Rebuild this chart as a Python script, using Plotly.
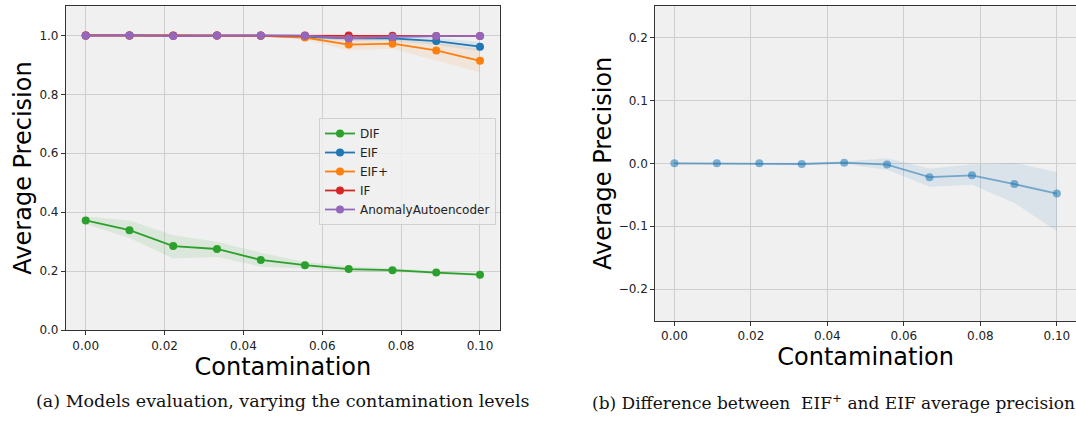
import plotly.graph_objects as go

# ---------------- data ----------------
contamination = [0.0, 0.0111, 0.0222, 0.0333, 0.0444, 0.0556, 0.0667, 0.0778, 0.0889, 0.1]

dif = [0.372, 0.339, 0.285, 0.275, 0.238, 0.220, 0.207, 0.203, 0.195, 0.188]
dif_hi = [0.385, 0.372, 0.322, 0.300, 0.262, 0.232, 0.216, 0.210, 0.201, 0.193]
dif_lo = [0.360, 0.312, 0.243, 0.248, 0.215, 0.209, 0.198, 0.197, 0.189, 0.183]

eif = [1.0, 1.0, 0.999, 1.0, 0.999, 0.995, 0.990, 0.990, 0.981, 0.962]
eif_hi = [1.0, 1.0, 1.0, 1.0, 1.0, 1.0, 0.997, 0.997, 0.992, 0.978]
eif_lo = [0.999, 0.999, 0.998, 0.999, 0.998, 0.990, 0.982, 0.982, 0.968, 0.946]

eifp = [1.0, 1.0, 0.999, 1.0, 0.999, 0.993, 0.969, 0.972, 0.949, 0.914]
eifp_hi = [1.0, 1.0, 1.0, 1.0, 1.0, 1.0, 0.985, 0.990, 0.975, 0.952]
eifp_lo = [0.999, 0.999, 0.998, 0.999, 0.998, 0.985, 0.950, 0.955, 0.915, 0.875]

iforest = [1.0, 1.0, 1.0, 1.0, 1.0, 1.0, 1.0, 0.999, 0.998, 0.998]
iforest_hi = [1.0, 1.0, 1.0, 1.0, 1.0, 1.0, 1.0, 1.0, 1.0, 1.0]
iforest_lo = [0.999, 0.999, 0.999, 0.999, 0.999, 0.999, 0.998, 0.997, 0.996, 0.995]

aae = [0.999, 1.0, 0.998, 1.0, 1.0, 0.999, 0.990, 0.995, 0.998, 0.998]
aae_hi = [1.0, 1.0, 1.0, 1.0, 1.0, 1.0, 0.997, 0.999, 1.0, 1.0]
aae_lo = [0.997, 0.998, 0.995, 0.998, 0.998, 0.996, 0.982, 0.988, 0.994, 0.994]

diff = [0.0, 0.0, 0.0, -0.001, 0.001, -0.002, -0.022, -0.019, -0.033, -0.048]
diff_hi = [0.002, 0.002, 0.002, 0.001, 0.003, 0.008, -0.008, -0.002, 0.001, -0.014]
diff_lo = [-0.002, -0.002, -0.002, -0.003, -0.001, -0.010, -0.037, -0.034, -0.063, -0.108]

series = [
    ("DIF", dif, dif_lo, dif_hi, "#2ca02c", "rgba(44,160,44,0.1)"),
    ("EIF", eif, eif_lo, eif_hi, "#1f77b4", "rgba(31,119,180,0.1)"),
    ("EIF+", eifp, eifp_lo, eifp_hi, "#ff7f0e", "rgba(255,127,14,0.1)"),
    ("IF", iforest, iforest_lo, iforest_hi, "#d62728", "rgba(214,39,40,0.1)"),
    ("AnomalyAutoencoder", aae, aae_lo, aae_hi, "#9467bd", "rgba(148,103,189,0.1)"),
]

W, H = 1076, 421
fig = go.Figure()

for name, y, lo, hi, col, fcol in series:
    fig.add_trace(go.Scatter(x=contamination, y=hi, mode="lines", line=dict(width=0),
                             showlegend=False, hoverinfo="skip", xaxis="x", yaxis="y"))
    fig.add_trace(go.Scatter(x=contamination, y=lo, mode="lines", line=dict(width=0),
                             fill="tonexty", fillcolor=fcol, showlegend=False,
                             hoverinfo="skip", xaxis="x", yaxis="y"))
for name, y, lo, hi, col, fcol in series:
    fig.add_trace(go.Scatter(x=contamination, y=y, mode="lines+markers", name=name,
                             line=dict(color=col, width=1.8),
                             marker=dict(color=col, size=8), xaxis="x", yaxis="y"))

# right panel
fig.add_trace(go.Scatter(x=contamination, y=diff_hi, mode="lines", line=dict(width=0),
                         showlegend=False, hoverinfo="skip", xaxis="x2", yaxis="y2"))
fig.add_trace(go.Scatter(x=contamination, y=diff_lo, mode="lines", line=dict(width=0),
                         fill="tonexty", fillcolor="rgba(31,119,180,0.1)", showlegend=False,
                         hoverinfo="skip", xaxis="x2", yaxis="y2"))
fig.add_trace(go.Scatter(x=contamination, y=diff, mode="lines+markers", showlegend=False,
                         line=dict(color="rgba(31,119,180,0.55)", width=1.8),
                         marker=dict(color="rgba(31,119,180,0.55)", size=8),
                         xaxis="x2", yaxis="y2"))

tickfont = dict(family="DejaVu Sans", size=12, color="#222222")
titlefont = dict(family="DejaVu Sans", size=24, color="#000000")
axis_common = dict(showline=True, linecolor="#333333", linewidth=1.2, mirror=True,
                   ticks="outside", ticklen=4, tickcolor="#333333", tickfont=tickfont,
                   showgrid=True, gridcolor="#cfcfcf", gridwidth=1, zeroline=False,
                   automargin=False)

fig.update_layout(
    width=W, height=H,
    margin=dict(l=0, r=0, t=0, b=0, autoexpand=False),
    paper_bgcolor="white",
    plot_bgcolor="#f0f0f0",
    showlegend=True,
    xaxis=dict(domain=[66 / W, 499.7 / W], range=[-0.005, 0.105],
               tickvals=[0, 0.02, 0.04, 0.06, 0.08, 0.10], tickformat=".2f",
               title=dict(text="Contamination", font=titlefont, standoff=6),
               anchor="y", **axis_common),
    yaxis=dict(domain=[1 - 330 / H, 1 - 6 / H], range=[0, 1.1],
               tickvals=[0, 0.2, 0.4, 0.6, 0.8, 1.0], tickformat=".1f",
               title=dict(text="Average Precision", font=titlefont, standoff=1),
               anchor="x", **axis_common),
    xaxis2=dict(domain=[655.3 / W, 1.0], range=[-0.005, 0.105],
                tickvals=[0, 0.02, 0.04, 0.06, 0.08, 0.10], tickformat=".2f",
                title=dict(text="Contamination", font=titlefont, standoff=4),
                anchor="y2", **axis_common),
    yaxis2=dict(domain=[1 - 320.7 / H, 1 - 6 / H], range=[-0.25, 0.25],
                tickvals=[-0.2, -0.1, 0, 0.1, 0.2], tickformat=".1f",
                title=dict(text="Average Precision", font=titlefont, standoff=0),
                anchor="x2", **axis_common),
    legend=dict(x=319 / W, y=1 - 118 / H, xanchor="left", yanchor="top",
                bgcolor="rgba(240,240,240,0.8)", bordercolor="#d0d0d0", borderwidth=1,
                font=dict(family="DejaVu Sans", size=12, color="#222222"),
                traceorder="normal", tracegroupgap=0, itemwidth=30),
    annotations=[
        dict(text="(a) Models evaluation, varying the contamination levels",
             x=283 / W, y=1 - 401 / H, xref="paper", yref="paper", showarrow=False,
             xanchor="center", yanchor="middle",
             font=dict(family="DejaVu Serif", size=17.5, color="#111111")),
        dict(text="(b) Difference between  EIF<sup>+</sup> and EIF average precision",
             x=833 / W, y=1 - 402 / H, xref="paper", yref="paper", showarrow=False,
             xanchor="center", yanchor="middle",
             font=dict(family="DejaVu Serif", size=17, color="#111111")),
    ],
)

fig.write_html("out.html")
